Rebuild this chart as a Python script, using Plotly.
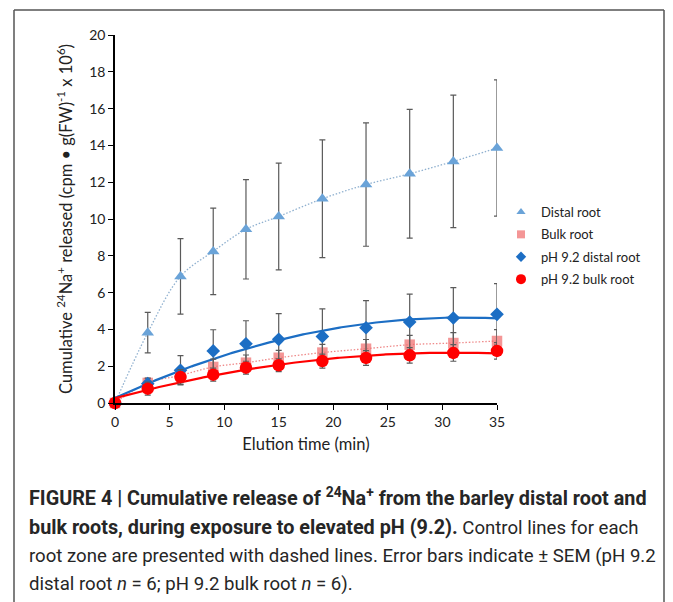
import numpy as np
import plotly.graph_objects as go

# ---- data ----
time_min = [0, 3, 6, 9, 12, 15, 19, 23, 27, 31, 35]
distal_root = [0, 3.82, 6.88, 8.24, 9.44, 10.14, 11.10, 11.87, 12.46, 13.13, 13.86]
distal_root_sem = [0, 1.10, 2.05, 2.35, 2.70, 2.90, 3.20, 3.35, 3.50, 3.60, 3.70]
bulk_root = [0, 1.09, 1.50, 1.96, 2.19, 2.46, 2.74, 2.95, 3.17, 3.26, 3.37]
bulk_root_sem = [0, 0.25, 0.40, 0.42, 0.42, 0.40, 0.45, 0.50, 0.50, 0.56, 0.62]
ph_distal_root = [0, 1.05, 1.78, 2.83, 3.22, 3.46, 3.62, 4.09, 4.40, 4.62, 4.82]
ph_distal_root_sem = [0, 0.30, 0.80, 1.15, 1.25, 1.40, 1.50, 1.47, 1.52, 1.65, 1.67]
ph_bulk_root = [0, 0.78, 1.41, 1.54, 1.92, 2.05, 2.28, 2.45, 2.59, 2.72, 2.83]
ph_bulk_root_sem = [0, 0.35, 0.40, 0.35, 0.35, 0.35, 0.38, 0.40, 0.42, 0.45, 0.45]

x_ticks = [0, 5, 10, 15, 20, 25, 30, 35]
y_ticks = [0, 2, 4, 6, 8, 10, 12, 14, 16, 18, 20]

FONT = "Lato, Open Sans, sans-serif"
CAP_FONT = "Roboto, Liberation Sans, sans-serif"

# polynomial trendlines (as in the spreadsheet) for the pH 9.2 series
xs = np.linspace(0, 35, 200)
fit_distal = np.polyval(np.polyfit(time_min, ph_distal_root, 2), xs)
fit_bulk = np.polyval(np.polyfit(time_min, ph_bulk_root, 2), xs)

fig = go.Figure()

# control lines (fine dotted, smoothed)
fig.add_trace(go.Scatter(x=time_min, y=distal_root, mode="lines", line=dict(color="#8fb0cf", width=1.3, dash="1.5px,1.8px", shape="spline"), showlegend=False, hoverinfo="skip"))
fig.add_trace(go.Scatter(x=time_min, y=bulk_root, mode="lines", line=dict(color="#ef8a8a", width=1.3, dash="1.5px,1.8px", shape="spline"), showlegend=False, hoverinfo="skip"))
# trendlines
fig.add_trace(go.Scatter(x=xs, y=fit_distal, mode="lines", line=dict(color="#1c6ec4", width=2.2), showlegend=False, hoverinfo="skip"))
fig.add_trace(go.Scatter(x=xs, y=fit_bulk, mode="lines", line=dict(color="#ff0000", width=2.2), showlegend=False, hoverinfo="skip"))

err_style = dict(type="data", color="#5a5a5a", thickness=1.2, width=3)

C_DIST, C_BULK, C_PHD, C_PHB = "#6aa3d8", "rgba(240,110,110,0.72)", "#1c6ec4", "#ff0000"

fig.add_trace(go.Scatter(x=time_min, y=distal_root, mode="markers", showlegend=False,
                         marker=dict(symbol="triangle-up", size=11, color=C_DIST),
                         error_y=dict(array=distal_root_sem, **err_style), cliponaxis=False))
fig.add_trace(go.Scatter(x=time_min, y=bulk_root, mode="markers", showlegend=False,
                         marker=dict(symbol="square", size=10.5, color=C_BULK),
                         error_y=dict(array=bulk_root_sem, **err_style), cliponaxis=False))
fig.add_trace(go.Scatter(x=time_min, y=ph_distal_root, mode="markers", showlegend=False,
                         marker=dict(symbol="diamond", size=10.5, color=C_PHD),
                         error_y=dict(array=ph_distal_root_sem, **err_style), cliponaxis=False))
fig.add_trace(go.Scatter(x=time_min, y=ph_bulk_root, mode="markers", showlegend=False,
                         marker=dict(symbol="circle", size=12.5, color=C_PHB),
                         error_y=dict(array=ph_bulk_root_sem, **err_style), cliponaxis=False))

# legend entries (smaller symbols, as in the reference legend)
for nm, sym, sz, col, grp in [("Distal root", "triangle-up", 8, C_DIST, "a"),
                              ("Bulk root", "square", 8, C_BULK, "b"),
                              ("pH 9.2 distal root", "diamond", 8, C_PHD, "c"),
                              ("pH 9.2 bulk root", "circle", 10, C_PHB, "d")]:
    fig.add_trace(go.Scatter(x=[None], y=[None], mode="markers", name=nm, legendgroup=grp,
                             marker=dict(symbol=sym, size=sz, color=col)))

# figure is offset 8px by the page margin; plot area in picture px: x 115..497, y 35..403
OFF = 8
L, R, T, B = 115 - OFF, 497 - OFF, 35 - OFF, 403 - OFF
def px(v):
    return (v - OFF - L) / (R - L)
def py(v):
    return (B - (v - OFF)) / (B - T)

fig.update_layout(
    width=673, height=602,
    margin=dict(l=L, r=673 - R, t=T, b=602 - B),
    paper_bgcolor="white", plot_bgcolor="white",
    font=dict(family=FONT, size=14, color="#222"),
    showlegend=True,
    legend=dict(x=px(501), y=py(197), xanchor="left", yanchor="top", xref="paper", yref="paper",
                font=dict(family=FONT, size=13, color="#222"), tracegroupgap=2.5,
                bgcolor="rgba(0,0,0,0)", traceorder="grouped"),
    xaxis=dict(range=[0, 35], tickvals=x_ticks, showgrid=False, zeroline=False,
               showline=True, linecolor="black", linewidth=1.5, ticks="outside", ticklen=5,
               tickcolor="black", tickfont=dict(size=14, color="#222"),
               title=dict(text="Elution time (min)", font=dict(size=16.5, color="#222"), standoff=10)),
    yaxis=dict(range=[0, 20], tickvals=y_ticks, showgrid=False, zeroline=False,
               showline=True, linecolor="black", linewidth=1.5, ticks="outside", ticklen=5,
               tickcolor="black", tickfont=dict(size=14, color="#222"),
               title=dict(text="Cumulative <sup>24</sup>Na<sup>+</sup> released (cpm • g(FW)<sup>-1</sup> x 10<sup>6</sup>)",
                          font=dict(size=16.5, color="#222"), standoff=12)),
)

# outer frame
frame = dict(type="line", xref="paper", yref="paper", line=dict(color="#555", width=1.5))
fig.add_shape(x0=px(14), x1=px(14), y0=py(10), y1=py(620), **frame)
fig.add_shape(x0=px(664), x1=px(664), y0=py(10), y1=py(620), **frame)
fig.add_shape(x0=px(14), x1=px(664), y0=py(10), y1=py(10), **frame)

B_SZ, R_SZ = 19.8, 18.6
caption_lines = [
    f"<b><span style='font-size:{B_SZ}px'>FIGURE 4 | Cumulative release of <sup>24</sup>Na<sup>+</sup> from the barley distal root and</span></b>",
    f"<b><span style='font-size:{B_SZ}px'>bulk roots, during exposure to elevated pH (9.2).</span></b> Control lines for each",
    "root zone are presented with dashed lines. Error bars indicate ± SEM (pH 9.2",
    "distal root <i>n</i> = 6; pH 9.2 bulk root <i>n</i> = 6).",
]
caption_y = [497, 527, 556, 584]
for txt, yy in zip(caption_lines, caption_y):
    fig.add_annotation(text=txt, xref="paper", yref="paper", x=px(27), y=py(yy), xanchor="left", yanchor="middle",
                       showarrow=False, align="left", font=dict(family=CAP_FONT, size=R_SZ, color="#262626"))

fig.write_html("out.html")
